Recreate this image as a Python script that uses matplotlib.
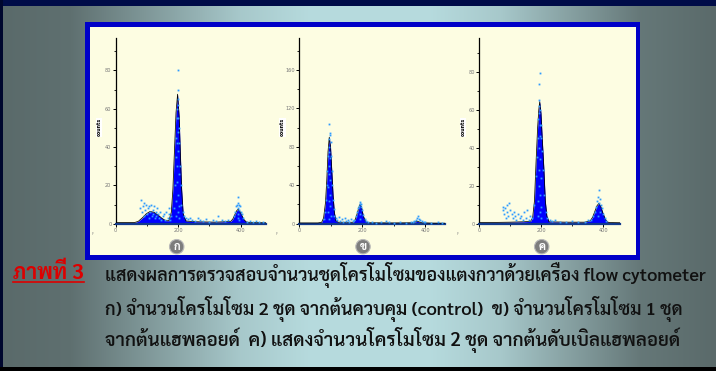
import numpy as np
import matplotlib
matplotlib.use('Agg')
import matplotlib.pyplot as plt
import matplotlib.patches as patches

# --- data ---
# (channel value, counts) of the fitted outline
curve1_x = [0, 60, 72, 85, 98, 110, 122, 135, 148, 160, 170, 178, 183, 188, 193, 198, 203, 207, 211, 216, 225, 260, 320, 368, 375, 382, 388, 392, 397, 403, 410, 418, 430, 480]
curve1_y = [0.6, 0.6, 1.2, 3.0, 5.2, 6.4, 6.0, 4.6, 2.8, 1.6, 1.5, 6, 18, 38, 58, 67.6, 56, 36, 18, 5, 1.4, 1.0, 0.8, 1.2, 2.5, 5, 7, 7.5, 6.5, 4.5, 2.2, 0.9, 0.6, 0.5]

curve2_x = [0, 60, 72, 78, 84, 88, 92, 96, 100, 104, 108, 112, 117, 125, 150, 172, 178, 184, 189, 194, 199, 204, 210, 220, 300, 360, 375, 390, 420, 462]
curve2_y = [0.8, 0.8, 1.5, 6, 22, 45, 75, 90, 80, 55, 30, 12, 3, 1.5, 1.5, 1.5, 4, 10, 16, 20.5, 16, 8, 3, 1, 0.8, 1, 2.5, 1, 0.6, 0.5]

curve3_x = [0, 60, 100, 140, 165, 172, 178, 183, 188, 192, 195, 199, 203, 208, 213, 218, 225, 280, 340, 358, 366, 374, 380, 386, 392, 398, 405, 412, 420, 454]
curve3_y = [0.7, 0.7, 0.8, 1, 1.2, 3, 12, 32, 50, 60, 64.2, 58, 45, 30, 12, 4, 1, 0.8, 0.8, 1.5, 3.5, 7, 9.5, 10.7, 9, 6, 3, 1, 0.6, 0.5]

# single events (light blue dots)
dots1_x = [78, 82, 85, 88, 90, 92, 95, 98, 100, 103, 105, 108, 110, 112, 115, 118, 120, 122, 125, 128, 130, 133, 136, 140, 143, 146, 150, 154, 158, 162, 166, 170, 172, 175, 178,
           186, 190, 192, 194, 196, 198, 200, 202, 204, 206, 208, 210, 198, 199,
           197, 199, 198, 196, 200, 195, 201, 197, 199, 194, 202, 198, 193, 203,
           215, 220, 225, 230, 238, 245, 255, 262, 270, 280, 290, 300, 310, 320, 327, 340, 350, 360,
           378, 382, 385, 388, 390, 392, 394, 396, 398, 400, 404, 408, 392, 390, 394, 392,
           420, 430, 440, 450, 460, 470]
dots1_y = [8, 12.5, 6, 9, 4, 11, 7, 10, 5, 8, 3, 9, 6, 10, 4, 7, 5, 9, 3, 6, 4, 8, 5, 3, 6, 2, 4, 5, 2, 6, 3, 5, 8, 2, 4,
           8, 20, 35, 45, 55, 62, 65, 50, 42, 30, 20, 10, 70, 80,
           60, 55, 48, 42, 38, 30, 26, 22, 15, 12, 9, 6, 4, 3,
           6, 4, 3, 2.5, 3, 2, 1.5, 3, 2, 1.5, 2.5, 1, 2, 1.5, 4, 2, 1.5, 2,
           4, 6, 9, 10, 8, 11, 7, 10, 9, 6, 5, 3, 14, 3, 2, 5,
           1, 1.5, 0.8, 1.5, 1, 0.8]

dots2_x = [78, 82, 85, 88, 90, 92, 94, 96, 98, 100, 102, 104, 106, 108, 110, 112, 96, 97,
           95, 97, 96, 94, 98, 93, 99, 95, 97, 92, 100, 96,
           118, 122, 126, 130, 135, 140, 145, 150, 155, 160, 165, 170,
           175, 180, 184, 188, 190, 192, 194, 196, 198, 200, 204, 208, 212, 193, 195,
           220, 230, 245, 260, 275, 285, 300, 320, 340, 355,
           360, 365, 370, 374, 377, 380, 385, 390, 395, 400, 420, 440, 455]
dots2_y = [5, 12, 25, 40, 55, 70, 80, 88, 92, 85, 70, 55, 40, 25, 15, 8, 104, 94,
           75, 68, 60, 52, 45, 38, 30, 24, 18, 12, 8, 5,
           6, 4, 7, 3, 5, 2, 6, 3, 4, 2, 5, 3,
           4, 8, 12, 16, 18, 21, 23, 20, 17, 14, 9, 5, 3, 10, 5,
           2, 1.5, 1, 2, 3, 2, 1, 2, 1, 2,
           2, 3, 4, 6, 8, 5, 4, 3, 2, 1.5, 1, 1.5, 1]

dots3_x = [75, 78, 80, 83, 86, 88, 90, 93, 96, 100, 104, 108, 112, 116, 120, 125, 130, 135, 140, 145, 150, 155, 160, 165, 170,
           178, 182, 185, 188, 190, 192, 194, 196, 198, 200, 203, 206, 210, 214, 193, 195,
           194, 196, 195, 193, 197, 192, 198, 194, 196, 191, 199, 195, 190, 200,
           220, 228, 235, 245, 260, 280, 300, 320, 340, 350,
           362, 368, 372, 376, 380, 383, 386, 389, 392, 396, 400, 405, 410, 386, 384, 388]
dots3_y = [7, 9, 5, 8, 3, 10, 6, 4, 11, 7, 5, 3, 6, 4, 2, 5, 3, 4, 2, 6, 3, 7, 2, 4, 3,
           10, 25, 35, 45, 55, 62, 65, 60, 52, 45, 38, 28, 15, 6, 73.5, 79.5,
           58, 52, 46, 40, 34, 28, 24, 20, 15, 12, 9, 6, 4, 3,
           3, 2, 1.5, 2, 1, 1, 1.5, 1, 1, 2,
           2, 4, 6, 9, 12, 14, 11, 13, 10, 8, 5, 3, 1.5, 17.5, 4, 6]

panel_letters = ['ก', 'ข', 'ค']
caption_head = 'ภาพที่ 3'
caption_lines = ['แสดงผลการตรวจสอบจำนวนชุดโครโมโซมของแตงกวาด้วยเครื่อง flow cytometer',
                 'ก) จำนวนโครโมโซม 2 ชุด จากต้นควบคุม (control)  ข) จำนวนโครโมโซม 1 ชุด',
                 'จากต้นแฮพลอยด์  ค) แสดงจำนวนโครโมโซม 2 ชุด จากต้นดับเบิลแฮพลอยด์']

W, H = 716, 371
thai_font = ['Sarabun', 'DejaVu Sans']

fig = plt.figure(figsize=(W / 100, H / 100), dpi=100)

# background in pixel coordinates
bg = fig.add_axes([0, 0, 1, 1])
bg.set_xlim(0, W)
bg.set_ylim(H, 0)
bg.axis('off')

t = np.interp(np.arange(W), [0, 70, 240, 310, 430, 500, 640, 716], [0, 0.05, 0.82, 0.98, 0.98, 0.82, 0.12, 0])
dark = np.array([90, 106, 106]) / 255
light = np.array([184, 221, 224]) / 255
row = dark + t[:, None] * (light - dark)
img = np.repeat(row[None, :, :], H, axis=0)
bg.imshow(img, extent=[0, W, H, 0], aspect='auto', zorder=0)

bg.add_patch(patches.Rectangle((0, 0), W, 6, facecolor='#000c48', edgecolor='none', zorder=1))
bg.add_patch(patches.Rectangle((0, 0), 3, H, facecolor='#00072e', edgecolor='none', zorder=1))
bg.add_patch(patches.Rectangle((0, 367), W, 4, facecolor='black', edgecolor='none', zorder=1))

# panel with blue frame
bg.add_patch(patches.Rectangle((85, 22), 555, 237.5, facecolor='#0000c8', edgecolor='none', zorder=1))
bg.add_patch(patches.Rectangle((89.5, 26.5), 546, 228, facecolor='#fdfde2', edgecolor='none', zorder=1))


def px_axes(left, right, top, bottom):
    return fig.add_axes([left / W, 1 - bottom / H, (right - left) / W, (bottom - top) / H])


charts = [
    dict(box=(115.7, 265.7, 38.3, 223.7), xmax=480, ymax=96.8, yt=[0, 20, 40, 60, 80], ym=[10, 30, 50, 70, 90],
         cx=curve1_x, cy=curve1_y, dx=dots1_x, dy=dots1_y, circ=(176.7, 246.7), mark=93),
    dict(box=(299, 444.7, 38.3, 223.7), xmax=462, ymax=193, yt=[0, 40, 80, 120, 160], ym=[20, 60, 100, 140, 180],
         cx=curve2_x, cy=curve2_y, dx=dots2_x, dy=dots2_y, circ=(363, 246.7), mark=277),
    dict(box=(479.3, 620, 38.3, 223.7), xmax=454, ymax=97.5, yt=[0, 20, 40, 60, 80], ym=[10, 30, 50, 70, 90],
         cx=curve3_x, cy=curve3_y, dx=dots3_x, dy=dots3_y, circ=(541.7, 246.7), mark=458),
]

for c, letter in zip(charts, panel_letters):
    left, right, top, bottom = c['box']
    ax = px_axes(left, right, top, bottom)
    ax.patch.set_alpha(0)
    ax.set_xlim(0, c['xmax'])
    ax.set_ylim(0, c['ymax'])
    ax.fill_between(c['cx'], c['cy'], color='#0000ff', linewidth=0, zorder=2)
    ax.plot(c['cx'], c['cy'], color='black', lw=0.55, zorder=3)
    ax.plot(c['dx'], c['dy'], 's', ms=1.3, color='#2e9bff', mec='none', zorder=4, clip_on=False)
    for s in ['top', 'right']:
        ax.spines[s].set_visible(False)
    ax.spines['left'].set_linewidth(0.9)
    ax.spines['bottom'].set_color('#123a8c')
    ax.spines['bottom'].set_linewidth(1.6)
    ax.set_xticks([0, 200, 400])
    ax.set_xticks([100, 300], minor=True)
    ax.set_yticks(c['yt'])
    ax.set_yticks(c['ym'], minor=True)
    ax.tick_params(which='major', direction='out', length=2, width=0.7, labelsize=3.6,
                   labelcolor='#777777', pad=1)
    ax.tick_params(which='minor', direction='out', length=1.2, width=0.6)
    ax.set_ylabel('counts', fontsize=3.4, fontweight='bold',
                  bbox=dict(facecolor='white', edgecolor='none', pad=0.4))
    ax.yaxis.set_label_coords(-14 / (right - left), 0.52)

    bg.text(c['mark'], 234, 'F', fontsize=2.5, color='#808080', ha='center', va='center', zorder=2)
    cxp, cyp = c['circ']
    bg.add_patch(patches.Circle((cxp, cyp), 7.2, facecolor='#7d7d7d', edgecolor='#b8b8b8', lw=0.8, zorder=2))
    bg.text(cxp, cyp + 0.5, letter, fontsize=8, fontweight='bold', color='white', family=thai_font,
            ha='center', va='center', zorder=3)

# caption
head = bg.text(13, 279, caption_head, fontsize=12, fontweight='bold', color='#dd0000',
               family=thai_font, ha='left', va='baseline', zorder=2)
baselines = [280.5, 315, 346]
lines = [bg.text(105, b, s, fontsize=12, fontweight='semibold', color='#111111', family=thai_font,
                 ha='left', va='baseline', zorder=2) for s, b in zip(caption_lines, baselines)]
bg.plot([13, 84], [281.5, 281.5], color='#dd0000', lw=1.2, zorder=2)

# fit each caption line to the width it takes in the reference
fig.canvas.draw()
r = fig.canvas.get_renderer()
targets = [601, 578, 575]
for ln, tw in zip(lines, targets):
    ln.set_fontsize(12 * tw / ln.get_window_extent(r).width)
head.set_fontsize(12 * 71 / head.get_window_extent(r).width)

fig.savefig('out.png', dpi=100)
